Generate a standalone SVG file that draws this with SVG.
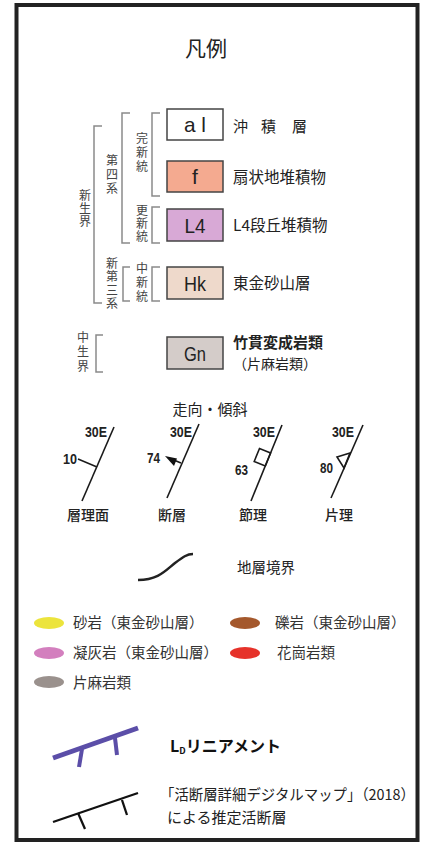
<svg xmlns="http://www.w3.org/2000/svg" width="425" height="851" viewBox="0 0 425 851">
<style>
.jp{font-family:"Noto Sans CJK JP","Noto Sans",sans-serif;fill:#222}
.v{font-family:"Noto Sans CJK JP",sans-serif;font-size:12px;fill:#444;writing-mode:vertical-rl}
.br{fill:none;stroke:#8a8a8a;stroke-width:1.5}
.box{stroke:#444;stroke-width:1.5}
.bt{font-family:"Liberation Sans",Arial,sans-serif;font-size:21px;fill:#222;text-anchor:middle}
.num{font-family:"Liberation Sans",Arial,sans-serif;font-size:14px;font-weight:bold;fill:#222}
.sl{fill:none;stroke:#1a1a1a;stroke-width:1.6}
.lab{font-family:"Noto Sans CJK JP",sans-serif;font-size:14px;font-weight:500;fill:#222;text-anchor:middle}
.el{font-family:"Noto Sans CJK JP",sans-serif;font-size:14.5px;fill:#333}
</style>
<rect x="0" y="0" width="425" height="851" fill="#fff"/>
<rect id="frame" x="16.5" y="5" width="401" height="835" fill="#fff" stroke="#222" stroke-width="4"/>
<g id="title"><text class="jp" x="206" y="56" font-size="21" text-anchor="middle">凡例</text></g>

<g id="brackets">
<path class="br" d="M102,126 H94 V303 H102"/>
<path class="br" d="M130,113 H122 V243 H130"/>
<path class="br" d="M160,113 H152 V196 H160"/>
<path class="br" d="M160,207 H152 V243 H160"/>
<path class="br" d="M130,267 H123 V301 H130"/>
<path class="br" d="M160,267 H152 V301 H160"/>
<path class="br" d="M103,335 H96 V372 H103"/>
</g>
<g id="era-labels">
<text class="v" x="85" y="189" letter-spacing="1">新生界</text>
<text class="v" x="112" y="154" letter-spacing="2">第四系</text>
<text class="v" x="142" y="132" letter-spacing="2">完新統</text>
<text class="v" x="142" y="204" letter-spacing="1">更新統</text>
<text class="v" x="112" y="257" letter-spacing="1.5">新第三系</text>
<text class="v" x="142" y="262" letter-spacing="2">中新統</text>
<text class="v" x="83" y="331" letter-spacing="2.5">中生界</text>
</g>

<g id="unit-al">
<rect class="box" x="167" y="109" width="56" height="31" fill="#fff"/>
<text class="bt" x="195" y="132" textLength="22" lengthAdjust="spacingAndGlyphs">a l</text>
<text class="jp" font-size="15"><tspan x="233" y="132">沖</tspan><tspan x="261" y="132">積</tspan><tspan x="292" y="132">層</tspan></text>
</g>
<g id="unit-f">
<rect class="box" x="167" y="161" width="56" height="31" fill="#f4aa90"/>
<text class="bt" x="195" y="184">f</text>
<text class="jp" x="233" y="183" font-size="15.5">扇状地堆積物</text>
</g>
<g id="unit-L4">
<rect class="box" x="167" y="209" width="56" height="32" fill="#d8a9d6"/>
<text class="bt" x="195" y="233" textLength="21" lengthAdjust="spacingAndGlyphs">L4</text>
<text class="jp" x="233" y="231" font-size="15.5">L4段丘堆積物</text>
</g>
<g id="unit-Hk">
<rect class="box" x="167" y="267" width="56" height="32" fill="#eed9cb"/>
<text class="bt" x="195" y="291" textLength="22" lengthAdjust="spacingAndGlyphs">Hk</text>
<text class="jp" x="233" y="289" font-size="15.5">東金砂山層</text>
</g>
<g id="unit-Gn">
<rect class="box" x="167" y="337" width="56" height="32" fill="#d4ccc9"/>
<text class="bt" x="195" y="361" textLength="22" lengthAdjust="spacingAndGlyphs">Gn</text>
<text class="jp" x="233" y="347.5" font-size="15" font-weight="bold">竹貫変成岩類</text>
<text class="jp" x="233" y="368.5" font-size="14">（片麻岩類）</text>
</g>

<g id="strike-dip">
<text class="jp" x="210" y="415" font-size="15" text-anchor="middle">走向・傾斜</text>
<g id="bedding">
<line class="sl" x1="82" y1="501" x2="114" y2="427"/>
<line class="sl" x1="97" y1="467" x2="78" y2="459"/>
<text class="num" x="107" y="437" text-anchor="end" textLength="22" lengthAdjust="spacingAndGlyphs">30E</text>
<text class="num" x="77" y="464" text-anchor="end" textLength="14" lengthAdjust="spacingAndGlyphs">10</text>
<text class="lab" x="88" y="520">層理面</text>
</g>
<g id="fault">
<line class="sl" x1="167" y1="498" x2="199" y2="424"/>
<line class="sl" x1="181" y1="463" x2="175" y2="460.5"/>
<polygon points="165,456 177,458.5 174,466" fill="#111"/>
<text class="num" x="192" y="437" text-anchor="end" textLength="22" lengthAdjust="spacingAndGlyphs">30E</text>
<text class="num" x="160" y="463" text-anchor="end" textLength="13" lengthAdjust="spacingAndGlyphs">74</text>
<text class="lab" x="172" y="520">断層</text>
</g>
<g id="joint">
<line class="sl" x1="251" y1="501" x2="282" y2="425"/>
<polygon class="sl" points="270.6,453 265.3,466 254.2,461.5 259.5,448.5"/>
<text class="num" x="275" y="437" text-anchor="end" textLength="22" lengthAdjust="spacingAndGlyphs">30E</text>
<text class="num" x="248" y="475" text-anchor="end" textLength="13" lengthAdjust="spacingAndGlyphs">63</text>
<text class="lab" x="253" y="520">節理</text>
</g>
<g id="schistosity">
<line class="sl" x1="331" y1="498" x2="363" y2="425"/>
<polygon class="sl" points="337,457 350,453 344,468"/>
<text class="num" x="354" y="437" text-anchor="end" textLength="22" lengthAdjust="spacingAndGlyphs">30E</text>
<text class="num" x="333" y="473" text-anchor="end" textLength="13" lengthAdjust="spacingAndGlyphs">80</text>
<text class="lab" x="339" y="520">片理</text>
</g>
</g>

<g id="boundary">
<path d="M138,580 C158,580 165,571 175,563 C183,557 187,554 193,554" fill="none" stroke="#222" stroke-width="2.5"/>
<text class="jp" x="237" y="573" font-size="14.5">地層境界</text>
</g>

<g id="rocks">
<ellipse cx="49" cy="623" rx="15" ry="6" fill="#ece43c"/>
<text class="el" x="73" y="628">砂岩（東金砂山層）</text>
<ellipse cx="245" cy="623" rx="15" ry="6" fill="#a4582c"/>
<text class="el" x="275" y="628">礫岩（東金砂山層）</text>
<ellipse cx="49" cy="653" rx="15" ry="6" fill="#d37fbe"/>
<text class="el" x="73" y="658">凝灰岩（東金砂山層）</text>
<ellipse cx="245" cy="653" rx="15" ry="6" fill="#e6322a"/>
<text class="el" x="277" y="658">花崗岩類</text>
<ellipse cx="49" cy="682" rx="15" ry="6" fill="#9a918d"/>
<text class="el" x="73" y="688">片麻岩類</text>
</g>

<g id="lineament">
<g stroke="#5b4ea8" stroke-linecap="butt">
<line x1="53" y1="758" x2="138" y2="728" stroke-width="5"/>
<line x1="82" y1="749" x2="79" y2="767" stroke-width="4"/>
<line x1="115" y1="738" x2="117" y2="755" stroke-width="4"/>
</g>
<text x="170" y="752" font-family="Noto Sans CJK JP,sans-serif" font-weight="bold" font-size="16" fill="#111">L<tspan font-size="9" dy="2">D</tspan><tspan dy="-2">リニアメント</tspan></text>
</g>

<g id="active-fault">
<g stroke="#111" stroke-width="2.3">
<line x1="53" y1="822" x2="138" y2="793"/>
<line x1="78" y1="813" x2="85" y2="829"/>
<line x1="122" y1="800" x2="127" y2="815"/>
</g>
<text class="jp" x="160" y="800" font-size="15" textLength="255" lengthAdjust="spacingAndGlyphs">「活断層詳細デジタルマップ」（2018）</text>
<text class="jp" x="167" y="823" font-size="15">による推定活断層</text>
</g>
</svg>
